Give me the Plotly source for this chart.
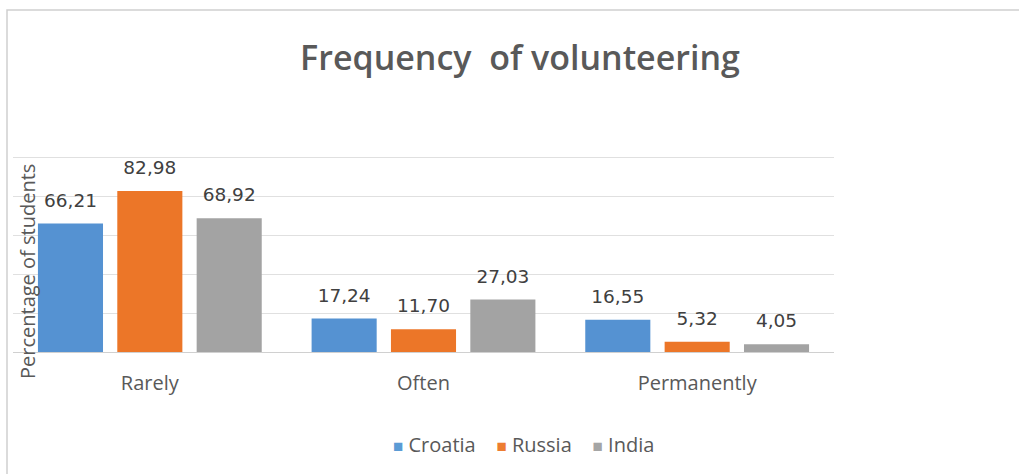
import plotly.graph_objects as go

categories = ["Rarely", "Often", "Permanently"]
croatia = [66.21, 17.24, 16.55]
russia = [82.98, 11.70, 5.32]
india = [68.92, 27.03, 4.05]
series_names = ["Croatia", "Russia", "India"]
colors = ["#5592D2", "#EC7628", "#A3A3A3"]
legend_colors = ["#5B9BD5", "#ED7D31", "#A5A5A5"]

def fmt(v):
    return f"{v:.2f}".replace(".", ",")

fig = go.Figure()
for name, vals, col in zip(series_names, [croatia, russia, india], colors):
    fig.add_trace(go.Bar(
        name=name, x=categories, y=vals, offsetgroup=name,
        marker=dict(color=col, line=dict(width=0)),
        hoverinfo="skip",
    ))
for name, vals in zip(series_names, [croatia, russia, india]):
    fig.add_trace(go.Scatter(
        name=name + " labels", x=categories, y=vals, offsetgroup=name,
        mode="markers+text", text=[fmt(v) for v in vals],
        textposition="top center",
        marker=dict(size=18, opacity=0),
        textfont=dict(family="DejaVu Sans", size=18.5, color="#404040"),
        cliponaxis=False, showlegend=False, hoverinfo="skip",
    ))

W, H = 1019, 474
YMAX = 102
L, R, B = 13, 185, 122
T = round(158 - 194 * (YMAX - 100) / 100)
pw, ph = W - L - R, H - T - B

def px_x(px):
    return (px - L) / pw

def px_y(py):
    return (H - B - py) / ph

legend_text = "    ".join(
    f"<span style='color:{c};font-size:17px'>■</span> {n}"
    for n, c in zip(series_names, legend_colors)
)

fig.update_layout(
    width=W, height=H,
    margin=dict(l=L, r=R, t=T, b=B, pad=0),
    paper_bgcolor="white", plot_bgcolor="white",
    barmode="group", bargap=0.13, bargroupgap=0.18,
    scattermode="group", scattergap=0.13,
    title=dict(text="Frequency  of volunteering", x=0.5103, xanchor="center",
               y=1 - 58 / H, yanchor="middle",
               font=dict(family="Open Sans", size=34, color="#595959", weight=600)),
    showlegend=False,
    xaxis=dict(showline=True, linecolor="#d0d0d0", linewidth=1, ticks="",
               tickfont=dict(family="Open Sans", size=20, color="#595959"),
               ticklabelstandoff=13, showgrid=False),
    yaxis=dict(range=[0, YMAX], tickvals=[20, 40, 60, 80, 100], showticklabels=False,
               showgrid=True, gridcolor="#e0e0e0", gridwidth=1,
               zeroline=False, showline=False),
    annotations=[
        dict(text="Percentage of students", xref="paper", yref="paper",
             x=px_x(27), y=px_y(272), textangle=-90, showarrow=False,
             xanchor="center", yanchor="middle",
             font=dict(family="Open Sans", size=20, color="#595959")),
        dict(text=legend_text, xref="paper", yref="paper",
             x=px_x(523), y=px_y(444), showarrow=False,
             xanchor="center", yanchor="middle",
             font=dict(family="Open Sans", size=20, color="#595959")),
    ],
    shapes=[dict(type="rect", xref="paper", yref="paper",
                 x0=px_x(7), x1=px_x(1040), y0=px_y(500), y1=px_y(10),
                 line=dict(color="#cfcfcf", width=1.5), layer="below")],
)

fig.write_html("out.html", config={"displayModeBar": False},
               post_script="document.body.style.margin='0px';")
